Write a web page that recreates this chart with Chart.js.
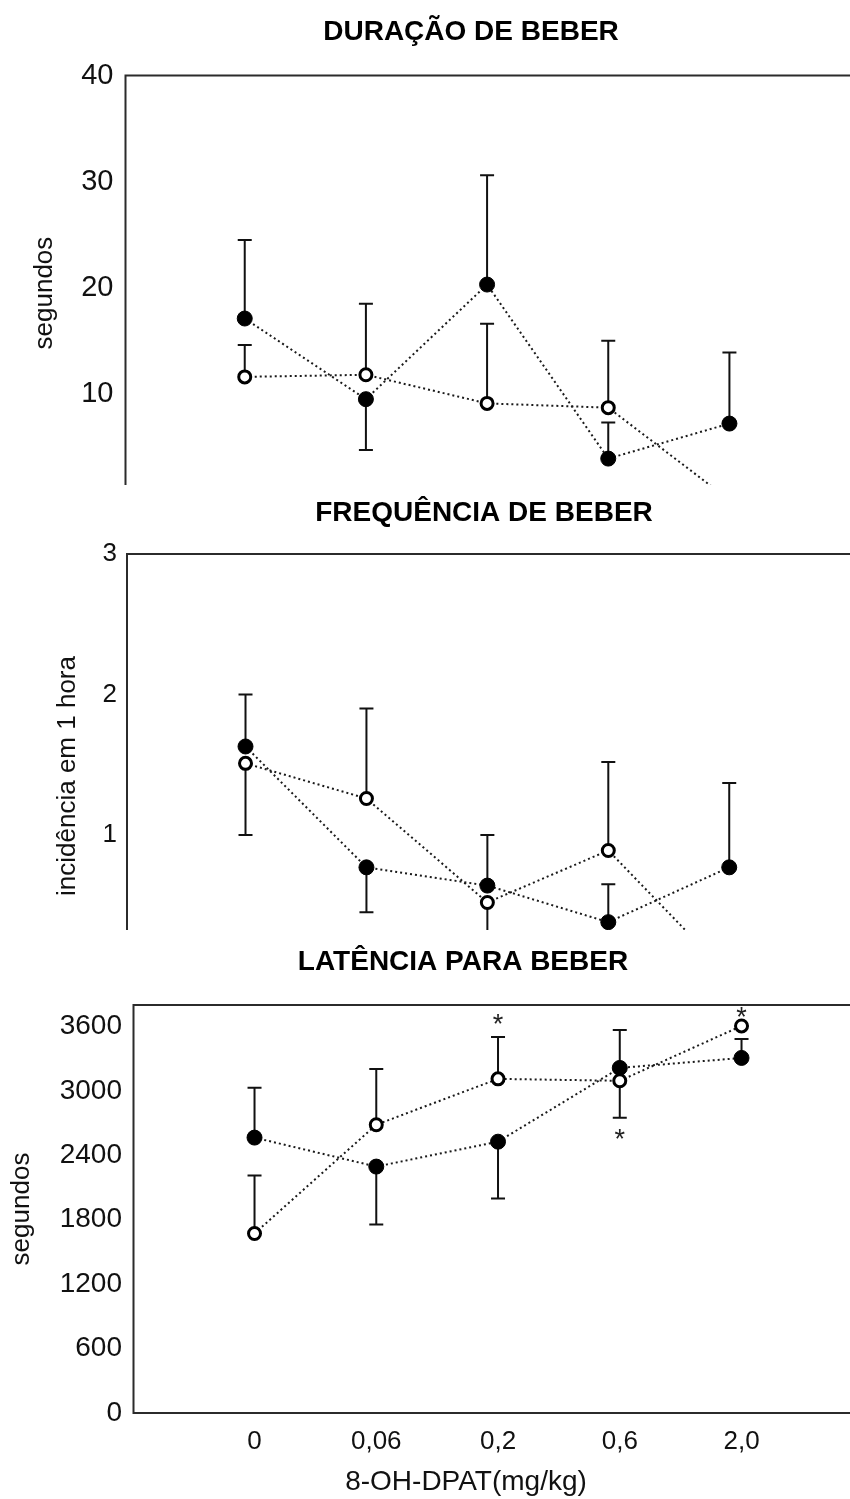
<!DOCTYPE html>
<html>
<head>
<meta charset="utf-8">
<script src="https://cdn.jsdelivr.net/npm/chart.js@4.4.1/dist/chart.umd.min.js"></script>
<style>
  html, body { margin: 0; padding: 0; background: #fff; width: 850px; height: 1499px; overflow: hidden; }
  .panel { position: absolute; left: 0; width: 850px; overflow: hidden; }
  .panel canvas { position: absolute; left: 0; top: 0; }
</style>
</head>
<body>
<div class="panel" style="top:0; height:485px;"><canvas id="dur" width="942" height="540"></canvas></div>
<div class="panel" style="top:486px; height:444px;"><canvas id="freq" width="968" height="540"></canvas></div>
<div class="panel" style="top:930px; height:569px;"><canvas id="lat" width="926" height="569"></canvas></div>
<script>
// Doses of 8-OH-DPAT (mg/kg)
const doses = ['0', '0,06', '0,2', '0,6', '2,0'];

// Duração de beber (segundos): filled and open groups, with the end of each error bar
const durFilled    = [17.1, 9.5, 20.3, 3.9, 7.2];
const durFilledErr = [24.5, 4.7, 30.6, 7.3, 13.9];
const durOpen      = [11.6, 11.8, 9.1, 8.7, 0];
const durOpenErr   = [14.6, 18.5, 16.6, 15.0, null];
const durTicks     = [10, 20, 30, 40];

// Frequência de beber (incidência em 1 hora)
const freqFilled    = [1.63, 0.77, 0.64, 0.38, 0.77];
const freqFilledErr = [2.0, 0.45, 1.0, 0.65, 1.37];
const freqOpen      = [1.51, 1.26, 0.52, 0.89, 0];
const freqOpenErr   = [1.0, 1.9, 0.1, 1.52, null];
const freqTicks     = [1, 2, 3];

// Latência para beber (segundos)
const latFilled    = [2565, 2295, 2527, 3214, 3307];
const latFilledErr = [3029, 1756, 1997, 3567, 3484];
const latOpen      = [1672, 2685, 3112, 3094, 3605];
const latOpenErr   = [2211, 3205, 3502, 2750, null];
const latSignif    = [null, null, 3679, 2608, 3744];   // level of each significance mark
const latTicks     = [0, 600, 1200, 1800, 2400, 3000, 3600];

const FONT = '"Liberation Sans", Arial, sans-serif';

// Plot frame: top edge and left axis (optionally the bottom axis), running to the canvas edge
const framePlugin = {
  id: 'frame',
  beforeDatasetsDraw(chart, args, opts) {
    const { ctx, chartArea: a, width } = chart;
    ctx.save();
    ctx.strokeStyle = '#2b2b2b';
    ctx.lineWidth = 2;
    ctx.beginPath();
    ctx.moveTo(width, a.top);
    ctx.lineTo(a.left, a.top);
    ctx.lineTo(a.left, a.bottom);
    if (opts.bottom) ctx.lineTo(width, a.bottom);
    ctx.stroke();
    ctx.restore();
  }
};

// One-sided error bars with caps, drawn beneath the markers
const errorBarPlugin = {
  id: 'errorBars',
  beforeDatasetsDraw(chart) {
    const { ctx, scales: { x, y } } = chart;
    ctx.save();
    ctx.strokeStyle = '#111';
    ctx.lineWidth = 2;
    chart.data.datasets.forEach(ds => {
      (ds.errorTo || []).forEach((end, i) => {
        if (end == null) return;
        const px = x.getPixelForValue(ds.data[i].x);
        const y0 = y.getPixelForValue(ds.data[i].y);
        const y1 = y.getPixelForValue(end);
        ctx.beginPath();
        ctx.moveTo(px, y0);
        ctx.lineTo(px, y1);
        ctx.moveTo(px - 7, y1);
        ctx.lineTo(px + 7, y1);
        ctx.stroke();
      });
    });
    ctx.restore();
  }
};

// Asterisks marking significant differences
const signifPlugin = {
  id: 'signif',
  afterDatasetsDraw(chart, args, opts) {
    if (!opts.levels) return;
    const { ctx, scales: { x, y } } = chart;
    ctx.save();
    ctx.fillStyle = '#222';
    ctx.font = '27px ' + FONT;
    ctx.textAlign = 'center';
    ctx.textBaseline = 'alphabetic';
    opts.levels.forEach((v, i) => {
      if (v == null) return;
      ctx.fillText('*', x.getPixelForValue(i), y.getPixelForValue(v) + 15);
    });
    ctx.restore();
  }
};

Chart.register(framePlugin, errorBarPlugin, signifPlugin);

function series(values) { return values.map((v, i) => ({ x: i, y: v })); }

function makePanel(id, p) {
  const lineStyle = { borderColor: '#1a1a1a', borderWidth: 2, borderDash: [2, 3], fill: false, tension: 0 };
  return new Chart(document.getElementById(id), {
    type: 'line',
    data: {
      datasets: [
        Object.assign({
          label: 'open', data: series(p.open), errorTo: p.openErr,
          pointStyle: 'circle', pointRadius: 6, pointBackgroundColor: '#fff',
          pointBorderColor: '#000', pointBorderWidth: 3
        }, lineStyle),
        Object.assign({
          label: 'filled', data: series(p.filled), errorTo: p.filledErr,
          pointStyle: 'circle', pointRadius: 7.5, pointBackgroundColor: '#000',
          pointBorderColor: '#000', pointBorderWidth: 1
        }, lineStyle)
      ]
    },
    options: {
      responsive: false,
      animation: false,
      layout: { padding: { left: 0, right: 0, top: 0, bottom: p.padBottom } },
      plugins: {
        legend: { display: false },
        tooltip: { enabled: false },
        title: {
          display: true, text: p.title, color: '#000',
          font: { family: FONT, size: 28, weight: 'bold' },
          padding: { top: p.titleTop, bottom: p.titleBottom }
        },
        frame: { bottom: p.showX },
        signif: { levels: p.signif || null }
      },
      scales: {
        x: {
          type: 'linear', min: p.xMin, max: p.xMax,
          display: p.showX,
          grid: { display: false, drawTicks: false },
          border: { display: false },
          afterBuildTicks: s => { s.ticks = doses.map((d, i) => ({ value: i })); },
          afterFit: s => { if (p.showX) s.height = p.xHeight; },
          ticks: {
            color: '#111', padding: 13.4,
            font: { family: FONT, size: 26 },
            callback: v => doses[Math.round(v)]
          },
          title: {
            display: p.showX, text: '8-OH-DPAT(mg/kg)', color: '#111',
            font: { family: FONT, size: 28 }, padding: { top: 0, bottom: 0 }
          }
        },
        y: {
          min: p.yMin, max: p.yMax,
          grid: { display: false, drawTicks: false },
          border: { display: false },
          afterBuildTicks: s => { s.ticks = p.yTicks.map(v => ({ value: v })); },
          afterFit: s => { s.width = p.yWidth; },
          ticks: {
            color: '#111', padding: p.tickPad,
            font: { family: FONT, size: p.tickSize },
            callback: v => String(v)
          },
          title: {
            display: true, text: p.yTitle, color: '#111',
            font: { family: FONT, size: 26 }, padding: { top: p.yTitleOffset, bottom: 0 }
          }
        },
        // blank spacer on the right, so the plot area ends where the dose axis needs it
        spacer: {
          type: 'linear', position: 'right', display: p.rightGap > 0,
          grid: { display: false, drawTicks: false },
          border: { display: false },
          ticks: { display: false },
          afterFit: s => { s.width = p.rightGap; }
        }
      }
    }
  });
}

makePanel('dur', {
  title: 'DURAÇÃO DE BEBER', yTitle: 'segundos',
  filled: durFilled, filledErr: durFilledErr, open: durOpen, openErr: durOpenErr,
  yTicks: durTicks, yMin: -1, yMax: 40, tickSize: 29, tickPad: 12,
  xMin: -0.984, xMax: 5.68, showX: false, rightGap: 0,
  yWidth: 125.5, yTitleOffset: 29.4,
  titleTop: 15.2, titleBottom: 26.7, padBottom: 25.8
});

makePanel('freq', {
  title: 'FREQUÊNCIA DE BEBER', yTitle: 'incidência em 1 hora',
  filled: freqFilled, filledErr: freqFilledErr, open: freqOpen, openErr: freqOpenErr,
  yTicks: freqTicks, yMin: -0.16, yMax: 3, tickSize: 26, tickPad: 10,
  xMin: -0.98, xMax: 5.9, showX: false, rightGap: 0,
  yWidth: 127, yTitleOffset: 52.4,
  titleTop: 10.2, titleBottom: 24.2, padBottom: 28
});

makePanel('lat', {
  title: 'LATÊNCIA PARA BEBER', yTitle: 'segundos',
  filled: latFilled, filledErr: latFilledErr, open: latOpen, openErr: latOpenErr,
  signif: latSignif,
  yTicks: latTicks, yMin: 0, yMax: 3800, tickSize: 28, tickPad: 11.5,
  xMin: -0.994, xMax: 4.468, showX: true, xHeight: 86, rightGap: 127.5,
  yWidth: 133.5, yTitleOffset: 6.4,
  titleTop: 15.2, titleBottom: 26.2, padBottom: 0
});
</script>
</body>
</html>
